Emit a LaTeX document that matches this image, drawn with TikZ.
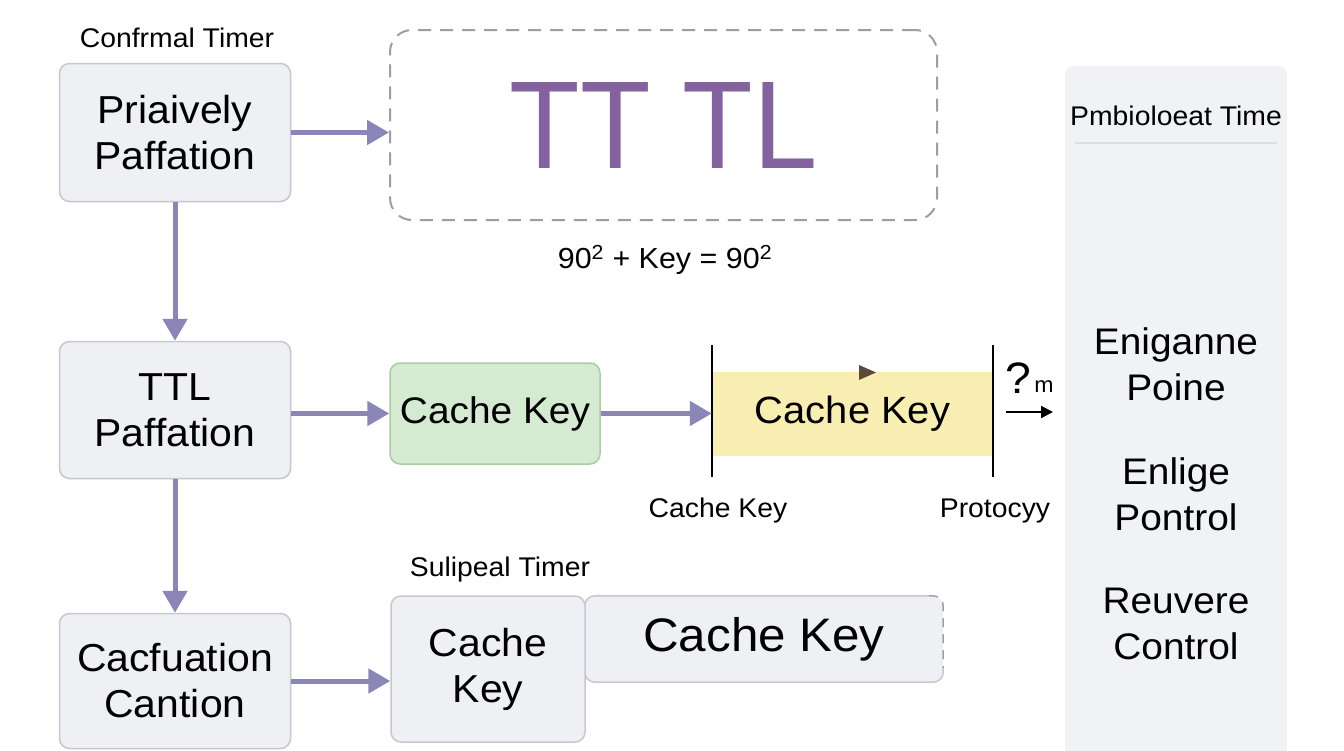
\documentclass[tikz,border=0pt]{standalone}
\usepackage{fontspec}
\setmainfont{Liberation Sans}[FakeStretch=1.05]
\usetikzlibrary{arrows.meta,calc}
\definecolor{boxfill}{HTML}{EFF0F4}
\definecolor{boxline}{HTML}{C6C7D0}
\definecolor{arrowc}{HTML}{8A86B8}
\definecolor{greenfill}{HTML}{D5EBD1}
\definecolor{greenline}{HTML}{AACDA3}
\definecolor{yellowfill}{HTML}{F8EEB2}
\definecolor{ttlc}{HTML}{8462A0}
\definecolor{dashc}{HTML}{9C9CAA}
\definecolor{panelfill}{HTML}{F1F2F5}
\definecolor{sepc}{HTML}{DCDDE3}
\definecolor{tric}{HTML}{5A4A3C}
\tikzset{
  gbox/.style={draw=boxline, fill=boxfill, line width=1.5pt, rounded corners=10pt, align=center, inner sep=0pt, font=\fontsize{39}{46}\selectfont},
  conn/.style={draw=arrowc, line width=5pt, -{Triangle[length=22pt,width=24pt]}},
  lbl/.style={font=\fontsize{27}{32}\selectfont, inner sep=0pt},
  big/.style={font=\fontsize{37}{46}\selectfont, align=center, inner sep=0pt},
  bar/.style={draw=black, line width=2.5pt},
}
\begin{document}
\begin{tikzpicture}[x=1pt,y=-1pt]
\useasboundingbox (0,0) rectangle (1344,750);
\clip (0,0) rectangle (1344,750);
\fill[white] (0,0) rectangle (1344,750);

% right panel
\fill[panelfill, rounded corners=9pt] (1065,66) rectangle (1287,790);
\node[lbl] (ptitle) at (1176,116) {Pmbioloeat Time};
\coordinate (sepL) at (1075,143);
\coordinate (sepR) at (1277,143);
\draw[sepc, line width=1.5pt] (sepL) -- (sepR);
\node[big] (p1) at (1176,364) {Eniganne\\Poine};
\node[big] (p2) at (1176,494) {Enlige\\Pontrol};
\node[big] (p3) at (1176,624) {Reuvere\\Control};

% left column
\node[lbl] (l1) at (177,38) {Confrmal Timer};
\node[gbox, minimum width=231pt, minimum height=138pt] (b1) at (175,132.5) {Priaively\\Paffation};
\node[gbox, minimum width=231pt, minimum height=137pt] (b2) at (175,410) {TTL\\Paffation};
\node[gbox, minimum width=231pt, minimum height=135pt] (b3) at (175,681) {Cacfuation\\Cantion};

% TTL dashed box
\node[draw=dashc, fill=white!97!boxfill, line width=2pt, dash pattern=on 13pt off 9pt, rounded corners=22pt,
      minimum width=547pt, minimum height=190pt, inner sep=0pt, text=ttlc] (ttl) at (663.5,125)
      {\scalebox{0.88}[1]{\fontsize{125}{130}\selectfont TT TL}};
\node[font=\fontsize{29}{34}\selectfont, inner sep=0pt] (formula) at (665,260) {90\textsuperscript{2} + Key = 90\textsuperscript{2}};

% middle row
\node[gbox, draw=greenline, fill=greenfill, minimum width=210pt, minimum height=101pt, font=\fontsize{37}{46}\selectfont] (ck1) at (495,413.5) {\raisebox{-4pt}{Cache Key}};
\node[fill=yellowfill, minimum width=281pt, minimum height=84pt, inner sep=0pt, big, font=\fontsize{38}{46}\selectfont] (ck2) at (852.5,414) {\raisebox{-5pt}{Cache Key}};
\coordinate (barLt) at (712,345);
\coordinate (barLb) at (712,477);
\coordinate (barRt) at (993,345);
\coordinate (barRb) at (993,477);
\draw[bar] (barLt) -- (barLb);
\draw[bar] (barRt) -- (barRb);
\fill[tric] (859,365) -- (876,372.5) -- (859,380) -- cycle;
\node[lbl] (ck2a) at (718,511) {Cache Key};
\node[lbl] (ck2b) at (995,511) {Protocyy};
\node[inner sep=0pt, font=\fontsize{44}{48}\selectfont] (q) at (1018,378) {?};
\node[inner sep=0pt, font=\fontsize{22}{26}\selectfont] (qm) at (1044,387) {m};
\coordinate (ota) at (1006,412);
\coordinate (otb) at (1053,412);
\draw[black, line width=2pt, -{Triangle[length=12pt,width=12pt]}] (ota) -- (otb);

% bottom row
\node[lbl] (l2) at (500,570) {Sulipeal Timer};
\node[fill=boxfill, rounded corners=10pt, minimum width=358pt, minimum height=86pt, inner sep=0pt,
      font=\fontsize{47}{54}\selectfont] (wide) at (764,639) {\raisebox{-3pt}{Cache Key}};
\draw[boxline, line width=1.5pt, rounded corners=10pt]
  ($(wide.north east)+(-14,0)$) -- (wide.north west) -- (wide.south west) -- (wide.south east) -- ($(wide.south east)+(0,-14)$);
\draw[boxline!80!black, line width=1.5pt, dash pattern=on 9pt off 7pt, rounded corners=10pt]
  ($(wide.north east)+(-14,0)$) -- (wide.north east) -- ($(wide.south east)+(0,-14)$);
\node[gbox, minimum width=194pt, minimum height=146pt] (ck3) at (488,669) {Cache\\Key};

% connectors
\draw[conn] (b1.east) -- (b1.east -| ttl.west);
\draw[conn] (b1.south) -- (b2.north);
\draw[conn] (b2.south) -- (b3.north);
\draw[conn] (b2.east |- ck1.west) -- (ck1.west);
\draw[conn] (ck1.east) -- (ck1.east -| ck2.west);
\draw[conn] (b3.east) -- (b3.east -| ck3.west);
\end{tikzpicture}
\end{document}
